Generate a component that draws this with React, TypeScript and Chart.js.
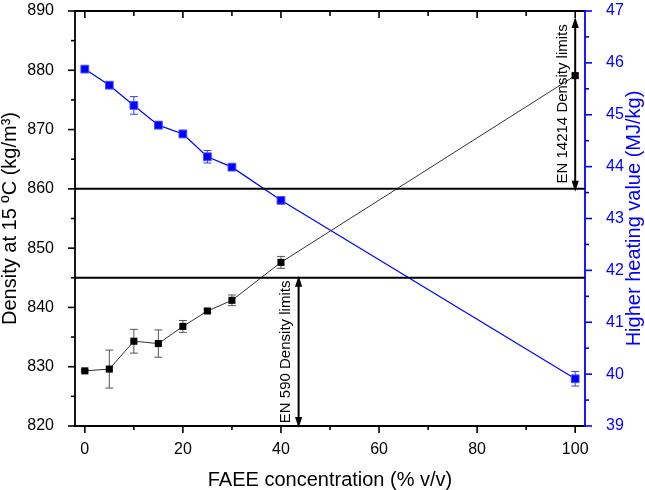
import React, { useEffect, useRef } from "react";
import { Chart, registerables } from "chart.js";

Chart.register(...registerables);

const FONT = '"Liberation Sans", Arial, Helvetica, sans-serif';

// ---- data ----
const faeeConcentration = [0, 5, 10, 15, 20, 25, 30, 40, 100];
const densityValues = [829.3, 829.6, 834.3, 833.9, 836.8, 839.4, 841.2, 847.6, 879.1];
const densityErrors = [0.2, 3.2, 2.0, 2.3, 1.0, 0.3, 0.9, 1.0, 0.3];
const hhvValues = [45.88, 45.57, 45.18, 44.8, 44.63, 44.19, 43.99, 43.35, 39.91];
const hhvErrors = [0.03, 0.03, 0.17, 0.07, 0.07, 0.12, 0.04, 0.03, 0.14];

// ---- axes ----
const xMajorTicks = [0, 20, 40, 60, 80, 100];
const xMinorTicks = [10, 30, 50, 70, 90];
const densityMajorTicks = [820, 830, 840, 850, 860, 870, 880, 890];
const densityMinorTicks = [825, 835, 845, 855, 865, 875, 885];
const hhvMajorTicks = [39, 40, 41, 42, 43, 44, 45, 46, 47];
const hhvMinorTicks = [39.5, 40.5, 41.5, 42.5, 43.5, 44.5, 45.5, 46.5];

const xTitle = "FAEE concentration (% v/v)";
const densityTitle = "Density at 15 \u00baC (kg/m\u00b3)";
const hhvTitle = "Higher heating value (MJ/kg)";

// ---- density limits ----
const limitLines = [860, 845];
const en590Label = "EN 590 Density limits";
const en590X = 43.6;
const en590Range = [820, 845];
const en14214Label = "EN 14214 Density limits";
const en14214X = 100;
const en14214Range = [860, 889];

const BLUE = "#0000ff";

function drawArrow(ctx: CanvasRenderingContext2D, x: number, yTop: number, yBot: number) {
  const head = 11;
  const hw = 3.6;
  ctx.save();
  ctx.strokeStyle = "#000";
  ctx.fillStyle = "#000";
  ctx.lineWidth = 2;
  ctx.beginPath();
  ctx.moveTo(x, yTop + head - 1);
  ctx.lineTo(x, yBot - head + 1);
  ctx.stroke();
  ctx.beginPath();
  ctx.moveTo(x, yTop);
  ctx.lineTo(x - hw, yTop + head);
  ctx.lineTo(x + hw, yTop + head);
  ctx.closePath();
  ctx.fill();
  ctx.beginPath();
  ctx.moveTo(x, yBot);
  ctx.lineTo(x - hw, yBot - head);
  ctx.lineTo(x + hw, yBot - head);
  ctx.closePath();
  ctx.fill();
  ctx.restore();
}

function drawVText(ctx: CanvasRenderingContext2D, text: string, x: number, y: number, font: string, color: string) {
  ctx.save();
  ctx.translate(x, y);
  ctx.rotate(-Math.PI / 2);
  ctx.font = font;
  ctx.fillStyle = color;
  ctx.textAlign = "center";
  ctx.textBaseline = "middle";
  ctx.fillText(text, 0, 0);
  ctx.restore();
}

const overlayPlugin = {
  id: "overlay",
  beforeDatasetsDraw(chart: any) {
    const { ctx } = chart;
    const xs = chart.scales.x;
    const drawErr = (vals: number[], errs: number[], scale: any, color: string) => {
      ctx.save();
      ctx.strokeStyle = color;
      ctx.lineWidth = 1;
      vals.forEach((v, i) => {
        const px = xs.getPixelForValue(faeeConcentration[i]);
        const top = scale.getPixelForValue(v + errs[i]);
        const bot = scale.getPixelForValue(v - errs[i]);
        ctx.beginPath();
        ctx.moveTo(px, top);
        ctx.lineTo(px, bot);
        ctx.moveTo(px - 4, top);
        ctx.lineTo(px + 4, top);
        ctx.moveTo(px - 4, bot);
        ctx.lineTo(px + 4, bot);
        ctx.stroke();
      });
      ctx.restore();
    };
    drawErr(densityValues, densityErrors, chart.scales.y, "#555555");
    drawErr(hhvValues, hhvErrors, chart.scales.y1, "#3b3bff");
  },
  afterDatasetsDraw(chart: any) {
    const { ctx, chartArea } = chart;
    const xs = chart.scales.x;
    const ys = chart.scales.y;
    ctx.save();
    ctx.strokeStyle = "#000";
    ctx.lineWidth = 2;
    limitLines.forEach((v) => {
      const py = ys.getPixelForValue(v);
      ctx.beginPath();
      ctx.moveTo(chartArea.left, py);
      ctx.lineTo(chartArea.right, py);
      ctx.stroke();
    });
    ctx.restore();

    const a1x = xs.getPixelForValue(en590X);
    const a1t = ys.getPixelForValue(en590Range[1]);
    const a1b = ys.getPixelForValue(en590Range[0]);
    drawArrow(ctx, a1x, a1t - 2, a1b + 2);
    drawVText(ctx, en590Label, a1x - 12.5, (a1t + a1b) / 2, `15px ${FONT}`, "#000");

    const a2x = xs.getPixelForValue(en14214X);
    const a2t = ys.getPixelForValue(en14214Range[1]);
    const a2b = ys.getPixelForValue(en14214Range[0]);
    drawArrow(ctx, a2x, a2t, a2b + 3);
    drawVText(ctx, en14214Label, a2x - 12.5, (a2t + a2b) / 2 + 1, `15px ${FONT}`, "#000");
  },
  afterDraw(chart: any) {
    const { ctx, chartArea } = chart;
    const { left, right, top, bottom } = chartArea;
    const xs = chart.scales.x;
    const ys = chart.scales.y;
    const y1 = chart.scales.y1;
    ctx.save();
    ctx.lineWidth = 1.6;
    const vTick = (scale: any, vals: number[], yEdge: number, len: number, color: string) => {
      ctx.strokeStyle = color;
      vals.forEach((v) => {
        const px = scale.getPixelForValue(v);
        ctx.beginPath();
        ctx.moveTo(px, yEdge);
        ctx.lineTo(px, yEdge + len);
        ctx.stroke();
      });
    };
    const hTick = (scale: any, vals: number[], xEdge: number, len: number, color: string) => {
      ctx.strokeStyle = color;
      vals.forEach((v) => {
        const py = scale.getPixelForValue(v);
        ctx.beginPath();
        ctx.moveTo(xEdge, py);
        ctx.lineTo(xEdge + len, py);
        ctx.stroke();
      });
    };
    vTick(xs, xMajorTicks, bottom, 7, "#000");
    vTick(xs, xMinorTicks, bottom, 4, "#000");
    vTick(xs, xMajorTicks, top, 7, "#000");
    vTick(xs, xMinorTicks, top, 5, "#000");
    hTick(ys, densityMajorTicks, left, -7, "#000");
    hTick(ys, densityMinorTicks, left, -4, "#000");
    hTick(y1, hhvMajorTicks, right, 7, BLUE);
    hTick(y1, hhvMinorTicks, right, 4, BLUE);

    ctx.lineWidth = 1.8;
    ctx.strokeStyle = "#000";
    ctx.beginPath();
    ctx.moveTo(right, top);
    ctx.lineTo(left, top);
    ctx.lineTo(left, bottom);
    ctx.lineTo(right, bottom);
    ctx.stroke();
    ctx.strokeStyle = BLUE;
    ctx.beginPath();
    ctx.moveTo(right, top - 0.9);
    ctx.lineTo(right, bottom + 0.9);
    ctx.stroke();
    ctx.restore();

    drawVText(ctx, hhvTitle, 634, (top + bottom) / 2, `20px ${FONT}`, BLUE);
  },
};

export default function App() {
  const canvasRef = useRef<HTMLCanvasElement | null>(null);

  useEffect(() => {
    if (!canvasRef.current) return;
    Chart.defaults.font.family = FONT;
    const chart = new Chart(canvasRef.current, {
      type: "line",
      data: {
        datasets: [
          {
            label: "Density",
            data: faeeConcentration.map((c, i) => ({ x: c, y: densityValues[i] })),
            yAxisID: "y",
            borderColor: "#333333",
            borderWidth: 1,
            backgroundColor: "#000000",
            pointBackgroundColor: "#000000",
            pointBorderColor: "#000000",
            pointBorderWidth: 0,
            pointStyle: "rect",
            pointRadius: 5,
            tension: 0,
          },
          {
            label: "HHV",
            data: faeeConcentration.map((c, i) => ({ x: c, y: hhvValues[i] })),
            yAxisID: "y1",
            borderColor: BLUE,
            borderWidth: 1.2,
            backgroundColor: BLUE,
            pointBackgroundColor: BLUE,
            pointBorderColor: "#4d4dff",
            pointBorderWidth: 1,
            pointStyle: "rect",
            pointRadius: 5.5,
            tension: 0,
          },
        ],
      },
      options: {
        animation: false,
        responsive: true,
        maintainAspectRatio: false,
        layout: { padding: { top: 11, left: 0, right: 0, bottom: 0 } },
        plugins: {
          legend: { display: false },
          tooltip: { enabled: false },
        },
        scales: {
          x: {
            type: "linear",
            min: -2,
            max: 102,
            grid: { display: false },
            border: { display: false },
            afterBuildTicks: (s: any) => {
              s.ticks = xMajorTicks.map((v) => ({ value: v }));
            },
            afterFit: (s: any) => {
              s.height = 64;
              s.paddingLeft = 0;
              s.paddingRight = 0;
            },
            ticks: { color: "#000", font: { size: 16, family: FONT }, padding: 6, maxRotation: 0 },
            title: {
              display: true,
              text: xTitle,
              color: "#000",
              font: { size: 20, family: FONT, lineHeight: 1 },
              padding: 0,
            },
          },
          y: {
            type: "linear",
            position: "left",
            min: 820,
            max: 890,
            grid: { display: false },
            border: { display: false },
            afterBuildTicks: (s: any) => {
              s.ticks = densityMajorTicks.map((v) => ({ value: v }));
            },
            afterFit: (s: any) => {
              s.width = 75;
              s.paddingTop = 0;
              s.paddingBottom = 0;
            },
            ticks: { color: "#000", font: { size: 16, family: FONT }, padding: 13 },
            title: {
              display: true,
              text: densityTitle,
              color: "#000",
              font: { size: 20, family: FONT, lineHeight: 1 },
              padding: 0,
            },
          },
          y1: {
            type: "linear",
            position: "right",
            min: 39,
            max: 47,
            grid: { display: false },
            border: { display: false },
            afterBuildTicks: (s: any) => {
              s.ticks = hhvMajorTicks.map((v) => ({ value: v }));
            },
            afterFit: (s: any) => {
              s.width = 60;
              s.paddingTop = 0;
              s.paddingBottom = 0;
            },
            ticks: { color: BLUE, font: { size: 16, family: FONT }, padding: 13 },
            title: { display: false },
          },
        },
      },
      plugins: [overlayPlugin],
    } as any);
    return () => chart.destroy();
  }, []);

  return (
    <div style={{ position: "absolute", left: 0, top: 0, width: 645, height: 490, background: "#fff" }}>
      <canvas ref={canvasRef} />
    </div>
  );
}
